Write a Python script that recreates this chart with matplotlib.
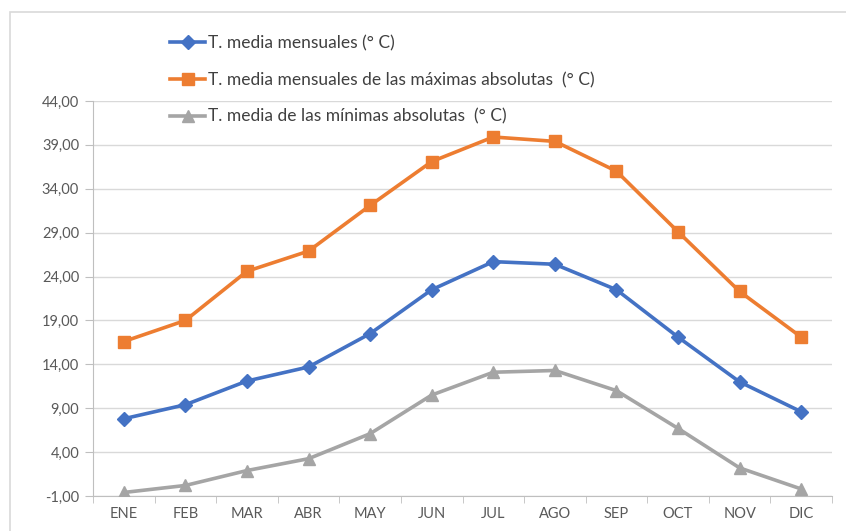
import matplotlib
matplotlib.use("Agg")
import matplotlib.pyplot as plt
from matplotlib.patches import Rectangle
from matplotlib.ticker import FuncFormatter, FixedLocator

# ==========================================
#  DATA
# ==========================================
meses = ["ENE", "FEB", "MAR", "ABR", "MAY", "JUN",
         "JUL", "AGO", "SEP", "OCT", "NOV", "DIC"]

t_media = [7.8, 9.4, 12.1, 13.7, 17.5, 22.5, 25.7, 25.4, 22.5, 17.1, 12.0, 8.6]
t_max_abs = [16.6, 19.0, 24.6, 26.9, 32.1, 37.1, 39.9, 39.4, 36.0, 29.1, 22.3, 17.1]
t_min_abs = [-0.6, 0.2, 1.9, 3.25, 6.1, 10.5, 13.1, 13.3, 11.0, 6.7, 2.2, -0.2]

etiquetas = [
    "T. media mensuales (° C)",
    "T. media mensuales de las máximas absolutas  (° C)",
    "T. media de las mínimas absolutas  (° C)",
]

y_ticks = [-1, 4, 9, 14, 19, 24, 29, 34, 39, 44]

# ==========================================
#  PLOT
# ==========================================
plt.rcParams["font.family"] = ["Lato", "DejaVu Sans"]

fig = plt.figure(figsize=(8.46, 5.31), dpi=100)
ax = fig.add_axes([93 / 846, 1 - 496 / 531, (832 - 93) / 846, (496 - 101) / 531])

# chart frame
fig.patches.append(Rectangle((10 / 846, -0.1), 1.0, 1 - 12 / 531 + 0.1,
                             transform=fig.transFigure, fill=False,
                             edgecolor="#D9D9D9", linewidth=1.2))

x = list(range(len(meses)))
ax.plot(x, t_media, color="#4472C4", lw=2.6, marker="D", ms=7,
        label=etiquetas[0], zorder=3)
ax.plot(x, t_max_abs, color="#ED7D31", lw=2.6, marker="s", ms=8,
        label=etiquetas[1], zorder=3)
ax.plot(x, t_min_abs, color="#A5A5A5", lw=2.6, marker="^", ms=9,
        label=etiquetas[2], zorder=3)

ax.set_xlim(-0.5, 11.5)
ax.set_ylim(-1, 44)
ax.set_yticks(y_ticks)
ax.yaxis.set_major_formatter(FuncFormatter(lambda v, p: f"{v:.2f}".replace(".", ",")))
ax.set_xticks(x)
ax.set_xticklabels(meses)
ax.xaxis.set_minor_locator(FixedLocator([i - 0.5 for i in range(13)]))

ax.grid(axis="y", color="#D9D9D9", lw=1)
ax.set_axisbelow(True)
for s in ["top", "right"]:
    ax.spines[s].set_visible(False)
for s in ["left", "bottom"]:
    ax.spines[s].set_color("#BFBFBF")

ax.tick_params(axis="y", length=6, color="#BFBFBF", labelcolor="#595959",
               labelsize=10.5, pad=4)
ax.tick_params(axis="x", which="major", length=0, labelcolor="#595959",
               labelsize=10.5, pad=8)
ax.tick_params(axis="x", which="minor", length=5, color="#BFBFBF")

leg = ax.legend(loc="upper left", bbox_to_anchor=(0.095, 1.185), frameon=False,
                fontsize=12.5, labelspacing=1.2, handlelength=2.0,
                handletextpad=0.2, borderaxespad=0)
for t in leg.get_texts():
    t.set_color("#404040")

fig.savefig("out.png", dpi=100)
